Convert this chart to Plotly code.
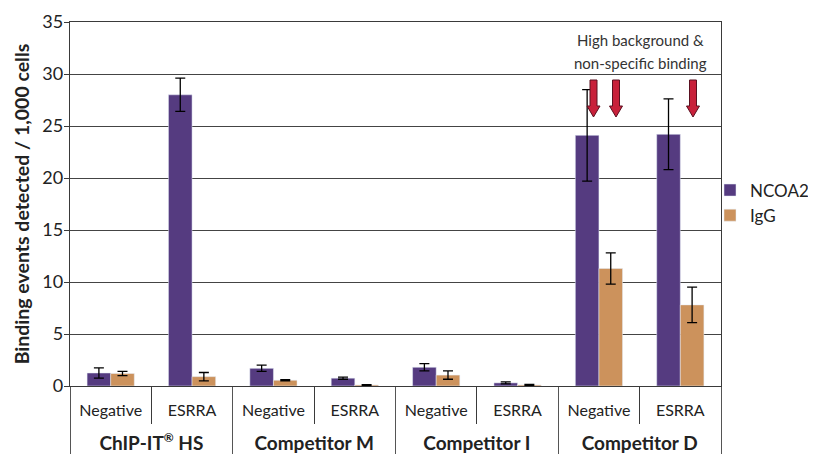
import plotly.graph_objects as go

outer = ['ChIP-IT<sup><span style="font-size:12px">®</span></sup> HS'] * 2 + \
        ["Competitor M"] * 2 + ["Competitor I"] * 2 + ["Competitor D"] * 2
inner = ["Negative", "ESRRA"] * 4

ncoa2 = [1.25, 28.0, 1.7, 0.75, 1.8, 0.3, 24.1, 24.2]
ncoa2_err = [0.5, 1.6, 0.3, 0.1, 0.35, 0.1, 4.4, 3.4]
igg = [1.2, 0.9, 0.55, 0.1, 1.05, 0.1, 11.3, 7.8]
igg_err = [0.2, 0.4, 0.05, 0.03, 0.4, 0.05, 1.5, 1.7]

note_lines = ["High background &", "non-specific binding"]

purple = "#553B80"
orange = "#CC925C"
line_c = "#3A3A3A"
font = "Lato"

outer_lbl = ['<span style="font-size:19px"><b>%s</b></span>' % o for o in outer]
inner_lbl = ['<span style="font-size:16px">%s</span><br><span style="font-size:18px"> </span>' % i
             for i in inner]
x = [outer_lbl, inner_lbl]

fig = go.Figure()
fig.add_trace(go.Bar(name="NCOA2", x=x, y=ncoa2, marker_color=purple,
                     error_y=dict(type="data", array=ncoa2_err, color="black",
                                  thickness=1.3, width=5)))
fig.add_trace(go.Bar(name="IgG", x=x, y=igg, marker_color=orange,
                     error_y=dict(type="data", array=igg_err, color="black",
                                  thickness=1.3, width=5)))

W, H = 840, 454
OFF = 8  # page offset of the figure inside the browser window
ml, mr, mt, mb = 62, 127, 14, 76
pw = W - ml - mr
ph = H - mt - mb
ymax = 35

# red arrows (page-pixel centres, converted to paper / data)
arrow_px = [593.5, 616, 693]
arrow_top_px, arrow_bot_px, head_start_px = 80, 117, 106
shaft_half, head_half = 3.5, 6.5

def xp(px):
    return (px - OFF - ml) / pw

def yd(py):
    return (OFF + mt + ph - py) / ph * ymax

shapes = []
for cx in arrow_px:
    path = ("M {a},{t} L {b},{t} L {b},{hs} L {c},{hs} L {m},{bt} L {d},{hs} L {e},{hs} L {e},{t} Z"
            .format(a=xp(cx - shaft_half), b=xp(cx + shaft_half), c=xp(cx + head_half),
                    d=xp(cx - head_half), e=xp(cx - shaft_half), m=xp(cx),
                    t=yd(arrow_top_px), hs=yd(head_start_px), bt=yd(arrow_bot_px)))
    shapes.append(dict(type="path", xref="paper", yref="y", path=path,
                       fillcolor="#C8203A", line=dict(color="#5A1020", width=1)))

annotations = [dict(text=t, xref="paper", yref="y", x=xp(640), y=yd(py),
                    showarrow=False, font=dict(size=15, family=font, color="#333"),
                    xanchor="center", yanchor="middle")
               for t, py in zip(note_lines, [40, 63])]

fig.update_layout(
    width=W, height=H,
    margin=dict(l=ml, r=mr, t=mt, b=mb),
    paper_bgcolor="white", plot_bgcolor="white",
    barmode="group", bargap=0.42, bargroupgap=0,
    font=dict(family=font, color="#222"),
    showlegend=True,
    legend=dict(x=xp(710), y=(OFF + mt + ph - 203) / ph, xanchor="left", yanchor="middle",
                bgcolor="rgba(0,0,0,0)",
                font=dict(size=17, family=font, color="#222"),
                itemwidth=30, tracegroupgap=0),
    shapes=shapes,
    annotations=annotations,
)
fig.update_xaxes(type="multicategory", showline=True, linecolor=line_c, linewidth=1.3,
                 mirror=True, ticks="outside", tickson="boundaries", ticklen=37,
                 tickcolor=line_c, showdividers=True, dividercolor="#555",
                 dividerwidth=1, ticklabelstandoff=9, automargin=False,
                 tickfont=dict(size=16.5, family=font, color="#222"))
fig.update_yaxes(range=[0, ymax], dtick=5, showgrid=True, gridcolor="#444", gridwidth=1,
                 showline=True, linecolor=line_c, linewidth=1.3, mirror=True,
                 ticks="outside", ticklen=5, tickcolor=line_c, zeroline=False,
                 automargin=False, ticklabelstandoff=-3,
                 tickfont=dict(size=18, family=font, color="#222"),
                 title=dict(text="<b>Binding events detected / 1,000 cells</b>",
                            font=dict(size=19.5, family=font, color="#222"), standoff=7))

fig.write_html("out.html")
